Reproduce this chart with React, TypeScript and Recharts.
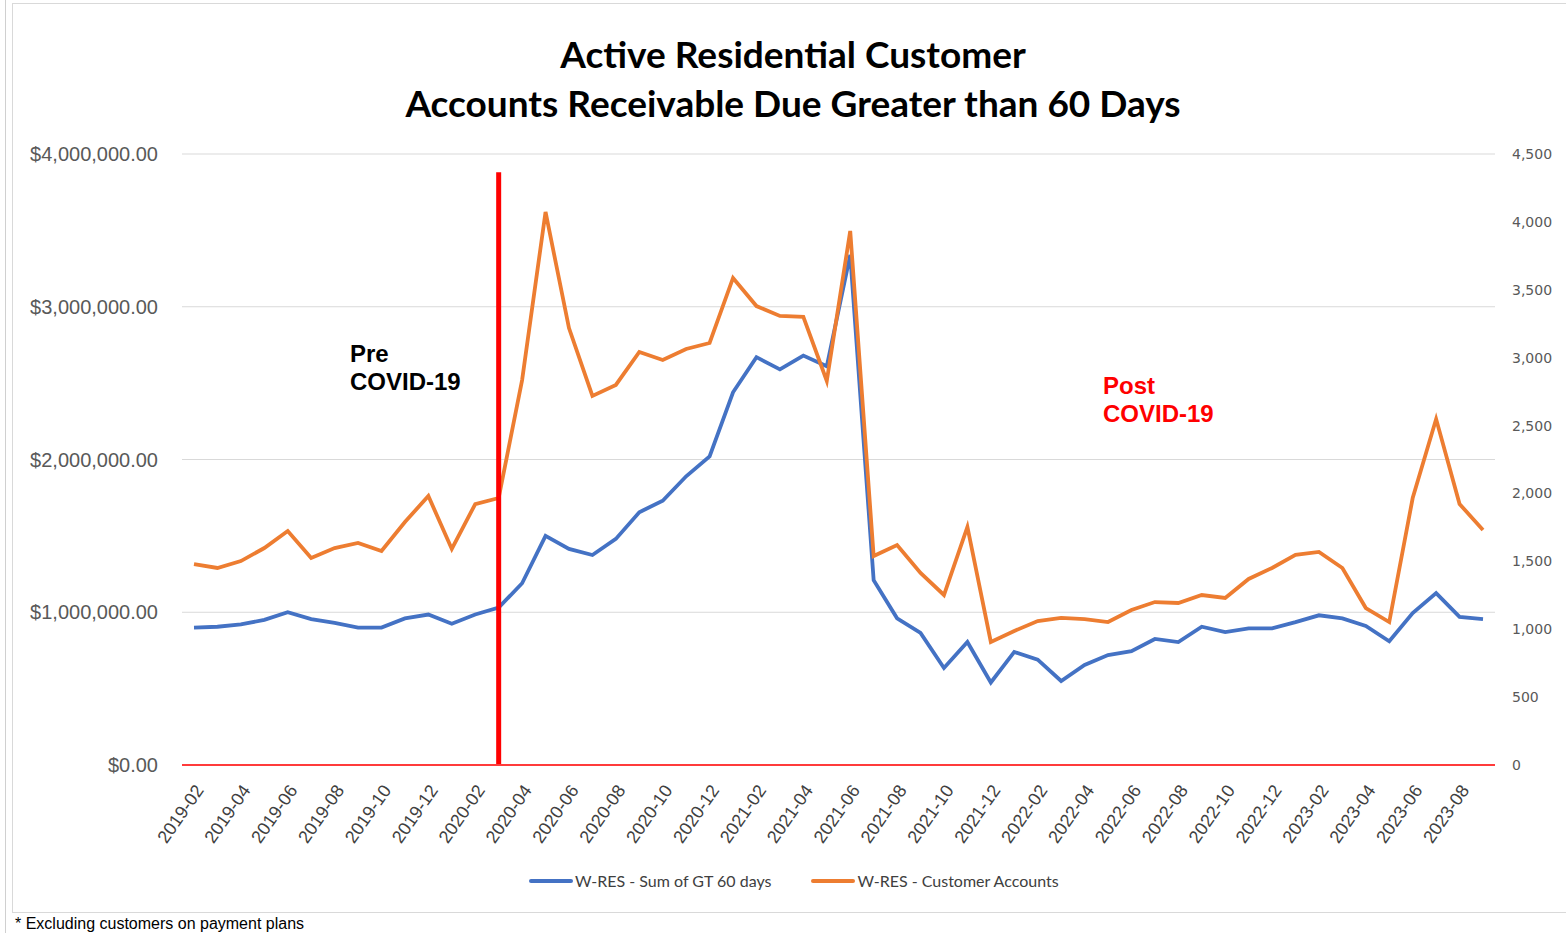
import React from 'react';
import { LineChart, Line, XAxis, YAxis, CartesianGrid, ReferenceLine } from 'recharts';

const months = [
  '2019-02','2019-03','2019-04','2019-05','2019-06','2019-07','2019-08','2019-09','2019-10','2019-11','2019-12',
  '2020-01','2020-02','2020-03','2020-04','2020-05','2020-06','2020-07','2020-08','2020-09','2020-10','2020-11','2020-12',
  '2021-01','2021-02','2021-03','2021-04','2021-05','2021-06','2021-07','2021-08','2021-09','2021-10','2021-11','2021-12',
  '2022-01','2022-02','2022-03','2022-04','2022-05','2022-06','2022-07','2022-08','2022-09','2022-10','2022-11','2022-12',
  '2023-01','2023-02','2023-03','2023-04','2023-05','2023-06','2023-07','2023-08','2023-09',
];

const sumGT60 = [
  900000, 905000, 920000, 950000, 1000000, 955000, 930000, 900000, 900000, 960000, 985000,
  925000, 985000, 1030000, 1190000, 1500000, 1415000, 1375000, 1480000, 1655000, 1730000, 1890000, 2020000,
  2440000, 2670000, 2590000, 2680000, 2610000, 3340000, 1210000, 960000, 865000, 635000, 805000, 540000,
  740000, 690000, 550000, 655000, 720000, 745000, 825000, 805000, 905000, 870000, 895000, 895000,
  935000, 980000, 960000, 910000, 810000, 995000, 1125000, 970000, 955000,
];

const customerAccounts = [
  1480, 1451, 1502, 1598, 1723, 1525, 1598, 1635, 1576, 1790, 1981,
  1591, 1922, 1966, 2835, 4073, 3218, 2718, 2799, 3042, 2983, 3064, 3108,
  3587, 3380, 3307, 3300, 2828, 3933, 1539, 1620, 1414, 1252, 1753, 906,
  987, 1060, 1083, 1075, 1053, 1142, 1200, 1193, 1252, 1230, 1370, 1451,
  1547, 1569, 1451, 1156, 1053, 1966, 2548, 1922, 1731,
];

const leftTicks = [0, 1000000, 2000000, 3000000, 4000000];
const rightTicks = [0, 500, 1000, 1500, 2000, 2500, 3000, 3500, 4000, 4500];

const covidStart = '2020-03';
const covidLineTop = 3880000;

const seriesNames = ['W-RES - Sum of GT 60 days', 'W-RES - Customer Accounts'];
const seriesColors = ['#4472C4', '#ED7D31'];

const data = months.map((m, i) => ({ month: m, gt60: sumGT60[i], accounts: customerAccounts[i] }));

const money = (v: number) =>
  '$' + v.toLocaleString('en-US', { minimumFractionDigits: 2, maximumFractionDigits: 2 });
const num = (v: number) => v.toLocaleString('en-US');

export default function App() {
  return (
    <div style={{ position: 'absolute', left: 0, top: 0, width: 1566, height: 933, background: '#fff', overflow: 'hidden' }}>
      <div style={{ position: 'absolute', left: 5, top: 0, width: 1, height: 933, background: '#d0d0d0' }} />
      <div style={{ position: 'absolute', left: 12, top: 3, width: 1560, height: 908, border: '1px solid #d9d9d9' }} />
      <div
        style={{
          position: 'absolute', left: 0, top: 29, width: 1586, textAlign: 'center',
          fontFamily: 'Lato, "Open Sans", sans-serif', fontWeight: 700, fontSize: 37, lineHeight: '49px', color: '#000',
        }}
      >
        <div>Active Residential Customer</div>
        <div>Accounts Receivable Due Greater than 60 Days</div>
      </div>
      <LineChart
        width={1566}
        height={933}
        data={data}
        margin={{ top: 154, right: 0, bottom: 0, left: 0 }}
        style={{ position: 'absolute', left: 0, top: 0 }}
      >
        <CartesianGrid yAxisId="left" vertical={false} stroke="#d9d9d9" strokeWidth={1} />
        <XAxis
          dataKey="month"
          interval={1}
          height={168}
          padding={{ left: 12, right: 12 }}
          axisLine={{ stroke: '#ff3b3b', strokeWidth: 2 }}
          tickLine={false}
          tickSize={6}
          tickMargin={12}
          angle={-55}
          textAnchor="end"
          tick={{ fill: '#404040', fontSize: 18, fontFamily: '"Liberation Sans", Arial, sans-serif' }}
        />
        <YAxis
          yAxisId="left"
          width={182}
          domain={[0, 4000000]}
          ticks={leftTicks}
          tickFormatter={money}
          axisLine={false}
          tickLine={false}
          tickSize={6}
          tickMargin={18}
          tick={{ fill: '#595959', fontSize: 20, fontFamily: '"Liberation Sans", Arial, sans-serif' }}
        />
        <YAxis
          yAxisId="right"
          orientation="right"
          width={71}
          domain={[0, 4500]}
          ticks={rightTicks}
          tickFormatter={num}
          axisLine={false}
          tickLine={false}
          tickSize={6}
          tickMargin={11}
          tick={{ fill: '#595959', fontSize: 14, fontFamily: '"DejaVu Sans", sans-serif' }}
        />
        <Line
          yAxisId="left"
          type="linear"
          dataKey="gt60"
          name={seriesNames[0]}
          stroke={seriesColors[0]}
          strokeWidth={3.8}
          dot={false}
          activeDot={false}
          isAnimationActive={false}
        />
        <Line
          yAxisId="right"
          type="linear"
          dataKey="accounts"
          name={seriesNames[1]}
          stroke={seriesColors[1]}
          strokeWidth={3.8}
          dot={false}
          activeDot={false}
          isAnimationActive={false}
        />
        <ReferenceLine
          yAxisId="left"
          segment={[{ x: covidStart, y: 0 }, { x: covidStart, y: covidLineTop }]}
          stroke="#ff0000"
          strokeWidth={5}
        />
      </LineChart>
      <div style={{ position: 'absolute', left: 350, top: 340, fontFamily: '"Liberation Sans", Arial, sans-serif', fontWeight: 700, fontSize: 24, lineHeight: '28px', color: '#000' }}>
        Pre<br />COVID-19
      </div>
      <div style={{ position: 'absolute', left: 1103, top: 372, fontFamily: '"Liberation Sans", Arial, sans-serif', fontWeight: 700, fontSize: 24, lineHeight: '28px', color: '#ff0000' }}>
        Post<br />COVID-19
      </div>
      <div style={{ position: 'absolute', left: 529, top: 871, display: 'flex', alignItems: 'center', fontFamily: 'Lato, sans-serif', fontSize: 16, color: '#404040' }}>
        {seriesNames.map((n, i) => (
          <div key={n} style={{ display: 'flex', alignItems: 'center', marginRight: i === 0 ? 40 : 0 }}>
            <div style={{ width: 44, height: 4, borderRadius: 2, background: seriesColors[i] }} />
            <span style={{ marginLeft: 2 }}>{n}</span>
          </div>
        ))}
      </div>
      <div style={{ position: 'absolute', left: 15, top: 915, fontFamily: '"Liberation Sans", Arial, sans-serif', fontSize: 16, color: '#000' }}>
        * Excluding customers on payment plans
      </div>
    </div>
  );
}
